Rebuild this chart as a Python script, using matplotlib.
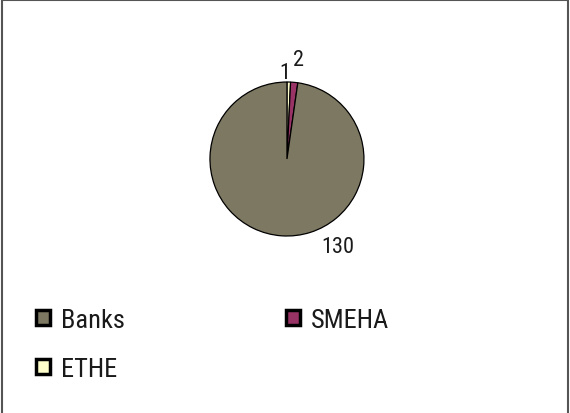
import matplotlib.pyplot as plt
from matplotlib.patches import Rectangle

plt.rcParams['font.family'] = ['Roboto Condensed', 'DejaVu Sans']

categories = ["Banks", "SMEHA", "ETHE"]
values = [130, 2, 1]
colors = ["#7d7862", "#993366", "#ffffcc"]

# drawn clockwise from 12 o'clock: ETHE, SMEHA, then Banks
order = [2, 1, 0]

fig = plt.figure(figsize=(5.7, 4.14), dpi=100)
# pie limits are +-1.25 radii, so width 2.5*r
ax = fig.add_axes([0.3346, 0.3810, 0.3377, 0.4650])

wedges, texts = ax.pie([values[i] for i in order],
                       colors=[colors[i] for i in order],
                       labels=[str(values[i]) for i in order],
                       startangle=90, counterclock=False,
                       wedgeprops=dict(edgecolor="black", linewidth=0.9),
                       textprops=dict(fontsize=16, color="#1a1a1a"))
ax.set_aspect("equal")

# hand-placed value labels, the thin slices sit too close together
texts[0].set_position((-0.03, 1.13))
texts[1].set_position((0.15, 1.29))
texts[2].set_position((0.66, -1.14))
for t in texts:
    t.set_ha("center")
    t.set_va("center")

# legend rows: Banks | SMEHA, then ETHE
leg_idx = [0, 2, 1]
handles = [wedges[order.index(i)] for i in leg_idx]
labels = [categories[i] for i in leg_idx]
leg = fig.legend(handles, labels, ncol=2, loc="upper left",
                 bbox_to_anchor=(0.063, 0.254), frameon=False,
                 borderpad=0, borderaxespad=0,
                 fontsize=19, handlelength=0.53, handleheight=0.53,
                 handletextpad=0.42, columnspacing=6.1, labelspacing=0.95)
for t in leg.get_texts():
    t.set_color("#1a1a1a")
for h in leg.legend_handles:
    h.set_linewidth(2.5)

# outer chart border (open at the bottom edge)
fig.patches.append(Rectangle((0.004, -0.1), 0.992, 1.098, transform=fig.transFigure,
                             fill=False, edgecolor="#555555", linewidth=1.5))

fig.savefig("out.png", dpi=100)
